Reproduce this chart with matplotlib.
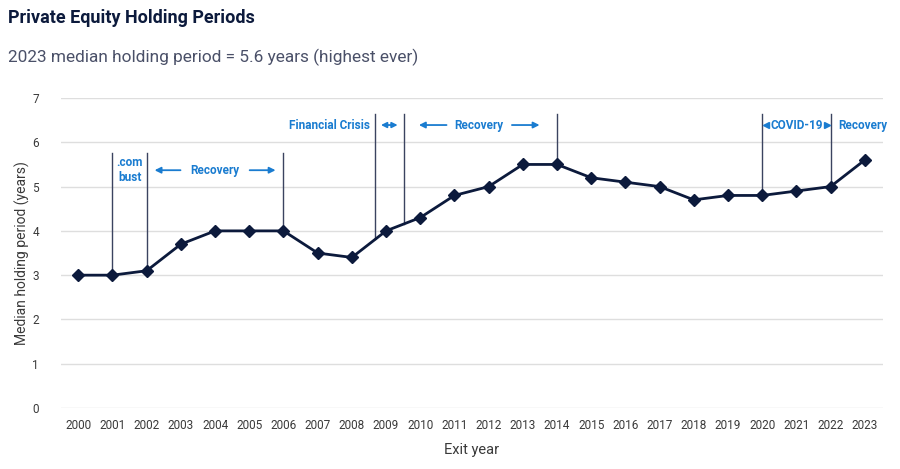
import matplotlib
matplotlib.use("Agg")
import matplotlib.pyplot as plt

plt.rcParams['font.family'] = ['Roboto', 'DejaVu Sans']

years = list(range(2000, 2024))
year_labels = [str(y) for y in years]
holding = [3.0, 3.0, 3.1, 3.7, 4.0, 4.0, 4.0, 3.5, 3.4, 4.0, 4.3, 4.8, 5.0, 5.5, 5.5,
           5.2, 5.1, 5.0, 4.7, 4.8, 4.8, 4.9, 5.0, 5.6]
y_ticks = [0, 1, 2, 3, 4, 5, 6, 7]

NAVY = '#0c1a3c'
BLUE = '#1a7cd0'
VLINE = '#3b4360'
GRID = '#dedede'

fig = plt.figure(figsize=(9, 4.69), dpi=100)
ax = fig.add_axes([0.068, 0.130, 0.913, 0.661])

x = list(range(len(years)))

def val_at(xp):
    i = int(xp)
    f = xp - i
    if i >= len(holding) - 1:
        return holding[-1]
    return holding[i] + (holding[i + 1] - holding[i]) * f

# vertical annotation lines (x position, top)
vlines = [(1, 5.75), (2, 5.75), (6, 5.75), (8.68, 6.65), (9.53, 6.65), (14, 6.65), (20, 6.65), (22, 6.65)]
for xv, top in vlines:
    ax.plot([xv, xv], [val_at(xv), top], color=VLINE, lw=1.0, zorder=2)

ax.plot(x, holding, color=NAVY, lw=2, marker='D', markersize=6, zorder=3)

ax.set_xlim(-0.5, 23.53)
ax.set_ylim(0, 7)
ax.set_yticks(y_ticks)
ax.set_xticks(x)
ax.set_xticklabels(year_labels)
ax.grid(axis='y', color=GRID, lw=1)
ax.set_axisbelow(True)
for s in ax.spines.values():
    s.set_visible(False)
ax.tick_params(length=0, labelsize=8.5, colors='#3a3a3a', pad=8)
ax.tick_params(axis='y', pad=16)
ax.set_xlabel('Exit year', fontsize=10.5, color='#3a3a3a', labelpad=8)
ax.set_ylabel('Median holding period (years)', fontsize=10, color='#3a3a3a', labelpad=2)

# annotations
tk = dict(color=BLUE, fontsize=8.5, fontweight='bold', ha='center', va='center')
ap = dict(arrowstyle='-|>', color=BLUE, lw=1.3, mutation_scale=9)

ax.text(1.5, 5.37, '.com\nbust', linespacing=1.2, **tk)

def recovery(x0, x1, xt, xm0, xm1, y):
    ax.annotate('', xy=(x0, y), xytext=(xm0, y), arrowprops=ap)
    ax.annotate('', xy=(x1, y), xytext=(xm1, y), arrowprops=ap)
    ax.text(xt, y, 'Recovery', **tk)

recovery(2.15, 5.85, 4.0, 3.07, 4.93, 5.37)
recovery(9.88, 13.57, 11.72, 10.85, 12.6, 6.39)

ax.text(7.35, 6.39, 'Financial Crisis', **tk)
ax.annotate('', xy=(8.77, 6.39), xytext=(9.42, 6.39),
            arrowprops=dict(arrowstyle='<|-|>', color=BLUE, lw=1.3, mutation_scale=8))

ax.text(21.0, 6.39, 'COVID-19', **tk)
ax.plot([20.1], [6.39], marker='<', color=BLUE, markersize=5)
ax.plot([21.9], [6.39], marker='>', color=BLUE, markersize=5)

ax.text(22.93, 6.39, 'Recovery', **tk)

fig.text(0.009, 0.962, 'Private Equity Holding Periods', fontsize=13, fontweight='bold',
         color=NAVY, va='center', ha='left')
fig.text(0.009, 0.878, '2023 median holding period = 5.6 years (highest ever)', fontsize=12.4,
         color='#4a5068', va='center', ha='left')

fig.savefig('out.png', dpi=100)
